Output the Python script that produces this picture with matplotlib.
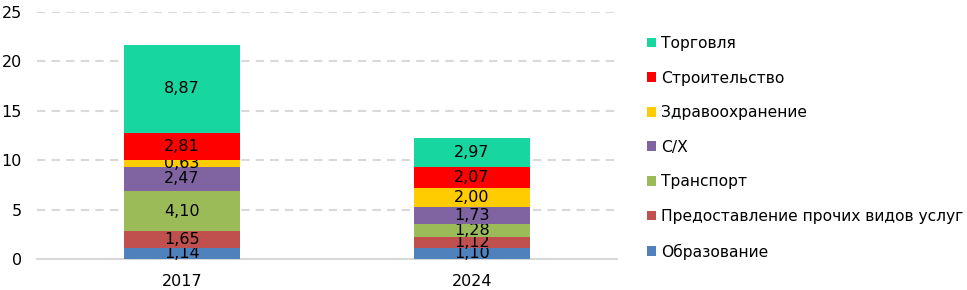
import numpy as np
import matplotlib.pyplot as plt

years = ['2017', '2024']
sectors = ['Образование', 'Предоставление прочих видов услуг', 'Транспорт',
           'С/Х', 'Здравоохранение', 'Строительство', 'Торговля']
values = {
    'Образование': [1.14, 1.10],
    'Предоставление прочих видов услуг': [1.65, 1.12],
    'Транспорт': [4.10, 1.28],
    'С/Х': [2.47, 1.73],
    'Здравоохранение': [0.63, 2.00],
    'Строительство': [2.81, 2.07],
    'Торговля': [8.87, 2.97],
}
colors = ['#4F81BD', '#C0504D', '#9BBB59', '#8064A2', '#FFCC00', '#FF0000', '#17D6A0']

plt.rcParams['font.family'] = ['DejaVu Sans']
fs = 11.5
fig = plt.figure(figsize=(9.67, 2.9), dpi=100)
ax = fig.add_axes([37/967, 1 - 259/290, 580/967, 247/290])

x = np.arange(len(years))
bottom = np.zeros(len(years))
handles = []
for sector, color in zip(sectors, colors):
    vals = np.array(values[sector])
    bars = ax.bar(x, vals, width=0.4, bottom=bottom, color=color, zorder=3, label=sector)
    ax.bar_label(bars, labels=[f'{v:.2f}'.replace('.', ',') for v in vals],
                 label_type='center', fontsize=fs, color='black')
    handles.append(bars)
    bottom += vals

ax.set_xlim(-0.5, 1.5)
ax.set_ylim(0, 25)
ax.set_yticks([0, 5, 10, 15, 20, 25])
ax.set_xticks(x)
ax.set_xticklabels(years)
ax.yaxis.grid(True, color='#D9D9D9', linestyle=(0, (4, 3)), linewidth=1.5, zorder=0)
for s in ['top', 'right', 'left']:
    ax.spines[s].set_visible(False)
ax.spines['bottom'].set_color('#D9D9D9')
ax.spines['bottom'].set_linewidth(1.5)
ax.tick_params(axis='both', length=0, labelsize=fs, colors='#000000')
ax.tick_params(axis='y', pad=11)
ax.tick_params(axis='x', pad=11)

fig.legend(handles[::-1], sectors[::-1], loc='upper left',
           bbox_to_anchor=(647/967, 1 - 36/290), frameon=False,
           fontsize=11.2, handlelength=0.6, handleheight=0.6, handletextpad=0.3,
           labelspacing=1.26, borderpad=0, borderaxespad=0)

fig.savefig('out.png', dpi=100)
